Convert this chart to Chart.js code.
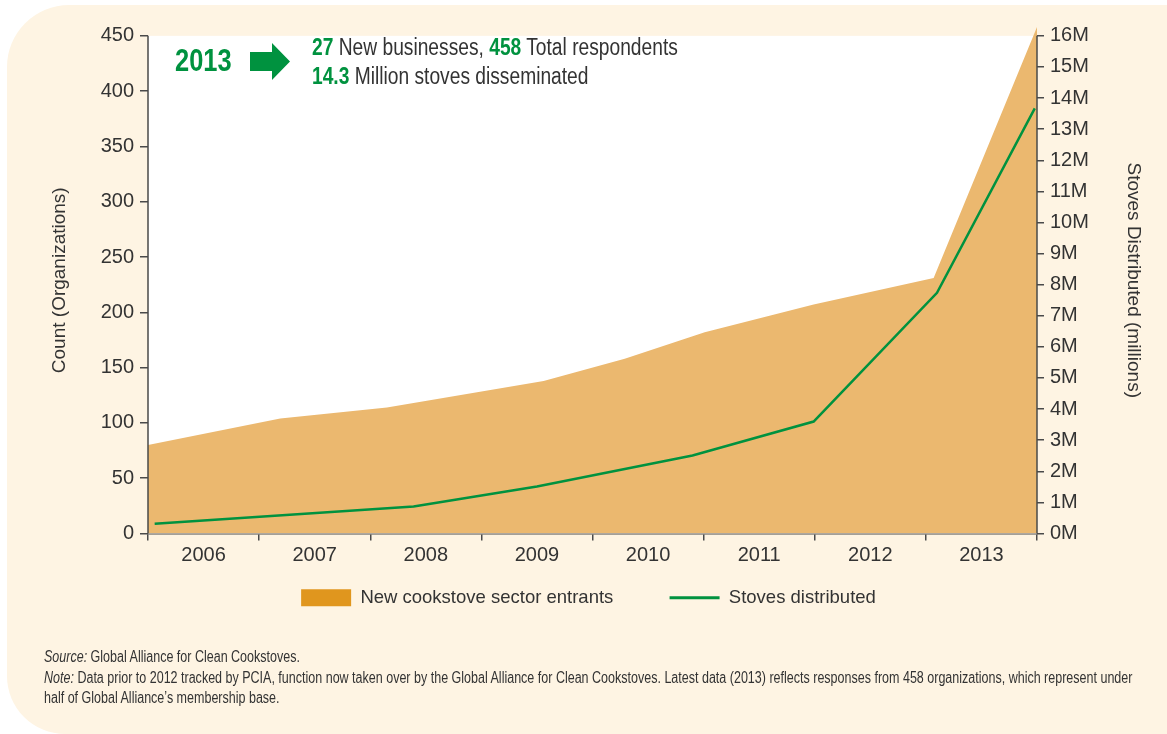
<!DOCTYPE html>
<html>
<head>
<meta charset="utf-8">
<script src="https://cdn.jsdelivr.net/npm/chart.js@4"></script>
<style>
  html, body { margin: 0; padding: 0; background: #ffffff; }
  body { width: 1167px; height: 734px; position: relative; overflow: hidden;
         font-family: "Liberation Sans", Arial, sans-serif; color: #333; }
  #panel { position: absolute; left: 7px; top: 5px; right: 0; bottom: 0;
           background: #FEF4E3; border-radius: 62px 0 0 58px; }
  #c { position: absolute; left: 0; top: 0; }
  .ann { position: absolute; white-space: nowrap; transform-origin: 0 0; }
  .g { color: #00923F; font-weight: bold; }
  #notes { position: absolute; left: 44px; top: 647px; font-size: 16px; line-height: 20px; color: #333;
           white-space: nowrap; transform: scaleX(0.782); transform-origin: 0 0; }
  #notes p { margin: 0 0 1px 0; }
</style>
</head>
<body>
<div id="panel"></div>
<canvas id="c" width="1167" height="734"></canvas>
<div class="ann g" style="left:175px; top:43px; font-size:31px; line-height:36px; transform:scaleX(0.82);">2013</div>
<svg class="ann" style="left:250px; top:43px;" width="42" height="38">
  <polygon points="0,9 22,9 22,0 40,18.5 22,37 22,28 0,28" fill="#00923F"/>
</svg>
<div class="ann" style="left:312px; top:33px; font-size:23px; line-height:29px; color:#333; transform:scaleX(0.835);">
  <span class="g">27</span> New businesses, <span class="g">458</span> Total respondents<br>
  <span class="g">14.3</span> Million stoves disseminated
</div>
<div id="notes">
  <p><i>Source:</i> Global Alliance for Clean Cookstoves.</p>
  <p><i>Note:</i> Data prior to 2012 tracked by PCIA, function now taken over by the Global Alliance for Clean Cookstoves. Latest data (2013) reflects responses from 458 organizations, which represent under<br>half of Global Alliance’s membership base.</p>
</div>
<script>
// ---- data ----
const yearLabels = ['2006', '2007', '2008', '2009', '2010', '2011', '2012', '2013'];
const entrantYears = [2005.5, 2006.69, 2007.65, 2009.06, 2009.79, 2010.51, 2011.49, 2012.57, 2013.5];
const entrantCounts = [80, 104, 114, 138, 158, 182, 207, 231, 458];
const stoveYears = [2005.56, 2007.89, 2009.0, 2010.40, 2011.49, 2012.60, 2013.48];
const stovesMillions = [0.31, 0.87, 1.51, 2.51, 3.6, 7.74, 13.67];
const countTicks = [0, 50, 100, 150, 200, 250, 300, 350, 400, 450];
const stoveTicks = [0, 1, 2, 3, 4, 5, 6, 7, 8, 9, 10, 11, 12, 13, 14, 15, 16];
const countAxisMax = 458;

const countTop = countTicks[countTicks.length - 1];
const stoveTop = stoveTicks[stoveTicks.length - 1];

const FONT = '"Liberation Sans", Arial, sans-serif';
const TXT = '#333333';
const AXIS = '#4a4a4a';
const GREEN = '#00923F';

const plotBg = {
  id: 'plotBg',
  afterLayout(chart) {
    if (chart.legend) { chart.legend.left += 5; chart.legend.right += 5; }
  },
  beforeDatasetsDraw(chart) {
    const {ctx, chartArea: a, scales} = chart;
    const top = scales.y.getPixelForValue(countTop);
    ctx.save();
    ctx.fillStyle = '#ffffff';
    ctx.fillRect(a.left, top, a.right - a.left, a.bottom - top);
    ctx.restore();
  },
  afterDraw(chart) {
    const {ctx, chartArea: a, scales} = chart;
    const top = scales.y.getPixelForValue(countTop);
    ctx.save();
    ctx.strokeStyle = AXIS;
    ctx.lineWidth = 1.5;
    ctx.beginPath();
    ctx.moveTo(a.left, top); ctx.lineTo(a.left, a.bottom);
    ctx.moveTo(a.right, top); ctx.lineTo(a.right, a.bottom);
    ctx.stroke();
    ctx.restore();
  }
};

new Chart(document.getElementById('c'), {
  type: 'line',
  data: {
    datasets: [
      {
        label: 'Stoves distributed',
        data: stoveYears.map((x, i) => ({x, y: stovesMillions[i]})),
        xAxisID: 'xv', yAxisID: 'y2',
        borderColor: GREEN, borderWidth: 2.5, pointRadius: 0, fill: false, tension: 0,
        order: 0
      },
      {
        label: 'New cookstove sector entrants',
        data: entrantYears.map((x, i) => ({x, y: entrantCounts[i]})),
        xAxisID: 'xv', yAxisID: 'y',
        backgroundColor: '#EBB86F', borderWidth: 0, borderColor: 'rgba(0,0,0,0)',
        pointRadius: 0, fill: 'origin', tension: 0,
        order: 1
      }
    ]
  },
  options: {
    responsive: false,
    animation: false,
    devicePixelRatio: 1,
    layout: { padding: { top: 27, left: 0, right: 0, bottom: 117 } },
    plugins: {
      tooltip: { enabled: false },
      legend: {
        position: 'bottom',
        labels: {
          usePointStyle: true,
          pointStyleWidth: 50,
          boxHeight: 17,
          padding: 10,
          color: TXT,
          font: { family: FONT, size: 18.5 },
          generateLabels() {
            return [
              { text: 'New cookstove sector entrants\u2003\u2003\u2002', fillStyle: '#E0961E', strokeStyle: '#E0961E', lineWidth: 0, pointStyle: 'rect', fontColor: TXT },
              { text: 'Stoves distributed', fillStyle: GREEN, strokeStyle: GREEN, lineWidth: 3, pointStyle: 'line', fontColor: TXT }
            ];
          }
        }
      }
    },
    scales: {
      x: {
        type: 'category',
        labels: yearLabels,
        position: 'bottom',
        offset: true,
        grid: { offset: true, drawOnChartArea: false, drawTicks: true, tickLength: 7, color: AXIS, lineWidth: 1.5 },
        border: { display: true, color: AXIS, width: 1.5 },
        ticks: { color: TXT, font: { family: FONT, size: 20 }, padding: 3, maxRotation: 0 },
        afterFit(s) { s.height = 45; }
      },
      xv: {
        type: 'linear', display: false, min: 2005.5, max: 2013.5
      },
      y: {
        position: 'left',
        min: 0, max: countAxisMax,
        ticks: { color: TXT, font: { family: FONT, size: 20 }, padding: 6 },
        afterBuildTicks(s) { s.ticks = countTicks.map(v => ({value: v})); },
        grid: { drawOnChartArea: false, drawTicks: true, tickLength: 8, color: AXIS, lineWidth: 1.5 },
        border: { display: false },
        title: { display: true, text: 'Count (Organizations)', color: TXT, font: { family: FONT, size: 19 }, padding: { top: 48, bottom: 0 } },
        afterFit(s) { s.width = 148; }
      },
      y2: {
        position: 'right',
        min: 0, max: stoveTop * countAxisMax / countTop,
        ticks: { color: TXT, font: { family: FONT, size: 20 }, padding: 6, callback: v => v + 'M' },
        afterBuildTicks(s) { s.ticks = stoveTicks.map(v => ({value: v})); },
        grid: { drawOnChartArea: false, drawTicks: true, tickLength: 7, color: AXIS, lineWidth: 1.5 },
        border: { display: false },
        title: { display: true, text: 'Stoves Distributed (millions)', color: TXT, font: { family: FONT, size: 19 }, padding: { top: 22, bottom: 0 } },
        afterFit(s) { s.width = 130; }
      }
    }
  },
  plugins: [plotBg]
});
</script>
</body>
</html>
